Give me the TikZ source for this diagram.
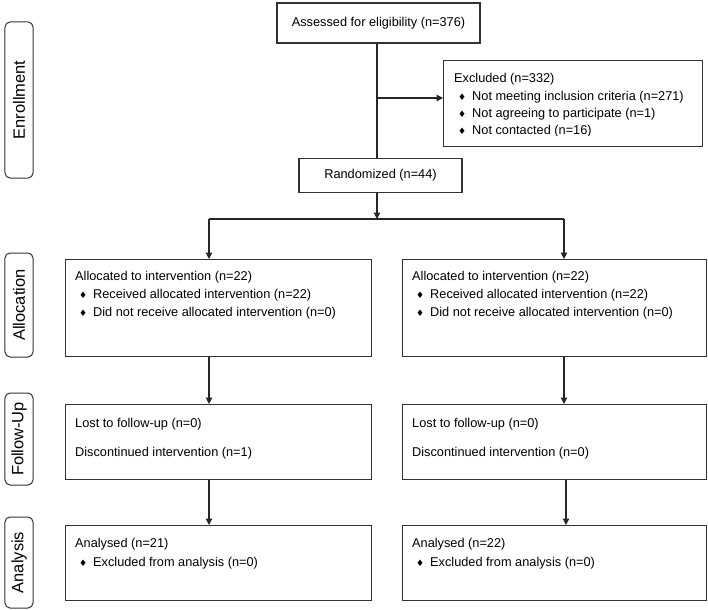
\documentclass[tikz,border=0pt]{standalone}
\usepackage{fontspec}
\setmainfont{Liberation Sans}
\newfontfamily\dejavu{DejaVu Sans}
\usetikzlibrary{arrows.meta}
\newcommand\bitem{\makebox[18bp][l]{\hspace*{4bp}{\dejavu\fontsize{9}{9}\selectfont ♦}}}
\begin{document}
\begin{tikzpicture}[x=1bp,y=-1bp,
  box/.style={draw=black!80, line width=1.2bp, inner sep=0pt, anchor=north west},
  cbox/.style={draw=black!80, line width=1.2bp, inner sep=0pt, font=\fontsize{12.8}{18}\selectfont},
  lab/.style={draw=black!80, line width=1bp, rounded corners=5bp, rotate=90, inner sep=0pt,
    font=\fontsize{16.5}{20}\selectfont, minimum height=28bp},
  txt/.style={inner sep=0pt, anchor=base west, font=\fontsize{12.8}{18}\selectfont},
  ln/.style={draw=black!85, line width=1.2bp},
  arr/.style={ln, -{Triangle[width=6.5bp,length=6.5bp]}},
]
\useasboundingbox (0,0) rectangle (708,610);

% phase labels
\node[lab, minimum width=156bp] (lenr) at (19,100) {Enrollment};
\node[lab, minimum width=104bp] (lall) at (19,305) {Allocation};
\node[lab, minimum width=92bp] (lfol) at (19,439) {Follow-Up};
\node[lab, minimum width=91bp] (lana) at (19,562.5) {Analysis};

% boxes
\node[cbox, minimum width=203bp, minimum height=40bp] (ass) at (378.5,23) {Assessed for eligibility (n=376)};
\node[box, minimum width=259bp, minimum height=86bp] (exc) at (443,60) {};
\node[cbox, minimum width=163bp, minimum height=34bp] (rand) at (380.5,175.5) {Randomized (n=44)};
\node[box, minimum width=306bp, minimum height=97bp] (al) at (65,259) {};
\node[box, minimum width=304bp, minimum height=97bp] (ar) at (402,259) {};
\node[box, minimum width=306bp, minimum height=75bp] (fl) at (65,404) {};
\node[box, minimum width=304bp, minimum height=75bp] (fr) at (402,404) {};
\node[box, minimum width=306bp, minimum height=75bp] (nl) at (65,525) {};
\node[box, minimum width=304bp, minimum height=75bp] (nr) at (402,525) {};

% excluded text (clipped at the bottom as in the original)
\begin{scope}
\clip (443,60) rectangle (702,135.5);
\node[txt] (e1) at (454,82.6) {Excluded (n=332)};
\node[txt] (e2) at (454,100.6) {\bitem Not meeting inclusion criteria (n=271)};
\node[txt] (e3) at (454,117.6) {\bitem Not agreeing to participate (n=1)};
\node[txt] (e4) at (454,134.6) {\bitem Not contacted (n=16)};
\end{scope}

% allocation texts
\node[txt] (al1) at (75,280.6) {Allocated to intervention (n=22)};
\node[txt] (al2) at (75,298.6) {\bitem Received allocated intervention (n=22)};
\node[txt] (al3) at (75,316.6) {\bitem Did not receive allocated intervention (n=0)};
\node[txt] (ar1) at (412,280.6) {Allocated to intervention (n=22)};
\node[txt] (ar2) at (412,298.6) {\bitem Received allocated intervention (n=22)};
\node[txt] (ar3) at (412,316.6) {\bitem Did not receive allocated intervention (n=0)};

% follow-up texts
\node[txt] (fl1) at (75,427.6) {Lost to follow-up (n=0)};
\node[txt] (fl2) at (75,456.6) {Discontinued intervention (n=1)};
\node[txt] (fr1) at (412,427.6) {Lost to follow-up (n=0)};
\node[txt] (fr2) at (412,456.6) {Discontinued intervention (n=0)};

% analysis texts
\node[txt] (nl1) at (75,547.6) {Analysed (n=21)};
\node[txt] (nl2) at (75,566.6) {\bitem Excluded from analysis (n=0)};
\node[txt] (nr1) at (412,547.6) {Analysed (n=22)};
\node[txt] (nr2) at (412,566.6) {\bitem Excluded from analysis (n=0)};

% connectors
\coordinate (v1) at (377,98);
\coordinate (jc) at (377,219);
\coordinate (jl) at (209,219);
\coordinate (jr) at (564,219);
\coordinate (kr) at (566,0);
\draw[ln] (ass.south -| v1) -- (rand.north -| v1);
\draw[arr] (v1) -- (v1 -| exc.west);
\draw[arr] (rand.south -| jc) -- (jc);
\draw[ln] (jl) -- (jr);
\draw[arr] (jl) -- (jl |- al.north);
\draw[arr] (jr) -- (jr |- ar.north);
\draw[arr] (al.south -| jl) -- (fl.north -| jl);
\draw[arr] (ar.south -| jr) -- (fr.north -| jr);
\draw[arr] (fl.south -| jl) -- (nl.north -| jl);
\draw[arr] (fr.south -| kr) -- (nr.north -| kr);
\end{tikzpicture}
\end{document}
